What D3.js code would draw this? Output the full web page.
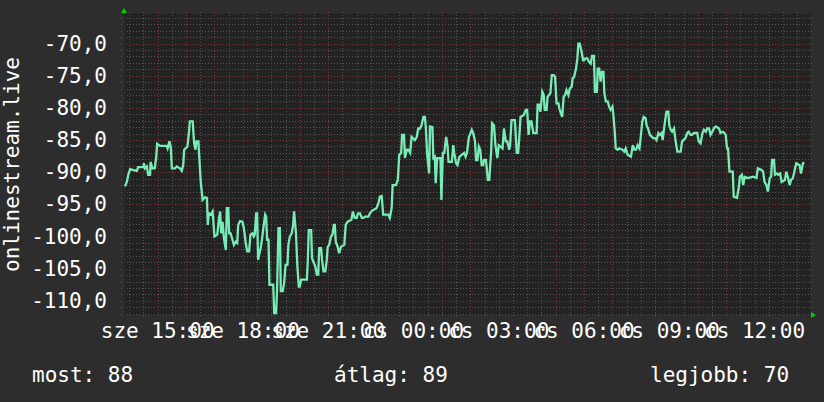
<!DOCTYPE html>
<html>
<head>
<meta charset="utf-8">
<script src="https://cdn.jsdelivr.net/npm/d3@7"></script>
<style>
  html, body { margin: 0; background: #2d2d2d; }
  svg { display: block; }
  text { font-family: "DejaVu Sans Mono", monospace; fill: #ffffff; }
</style>
</head>
<body>
<svg id="chart" width="824" height="402"></svg>
<script>
// --- data ---
const yTitle = "onlinestream.live";
const legendLabels = ["most", "átlag", "legjobb"];
const legendValues = [88, 89, 70];
const dayNames = ["v", "h", "k", "sze", "cs", "p", "szo"];
const startTime = new Date(2024, 0, 3, 13, 49); // szerda 13:49
const spanMinutes = 1448;
const yTicks = [-70, -75, -80, -85, -90, -95, -100, -105, -110];

// minutes after startTime
const minutes = [
  2,6,9,13,16,27,30,41,42,44,48,51,55,56,60,65,68,70,76,90,92,96,99,101,108,111,118,122,125,127,134,137,139,145,148,151,153,157,159,162,166,171,175,177,179,183,187,191,197,200,203,205,208,211,215,217,220,222,225,229,232,236,239,241,
  245,250,253,257,260,264,267,271,274,276,279,281,283,286,289,292,295,298,300,302,305,307,315,317,321,323,326,329,331,335,338,341,345,347,350,354,357,359,363,366,369,371,374,386,388,390,395,397,404,407,410,412,416,418,421,425,428,430,433,437,440,443,445,447,451,454,458,465,468,472,480,483,
  487,491,494,498,502,505,509,516,519,523,533,537,540,544,547,558,561,565,567,574,578,581,585,587,591,593,597,600,604,607,614,618,621,625,628,632,635,637,640,644,646,651,653,656,658,661,668,670,673,676,680,683,685,692,695,697,701,704,708,718,721,724,728,
  730,734,737,741,743,746,749,752,755,758,760,764,768,771,775,777,781,784,788,791,799,802,806,809,813,815,818,825,829,832,834,837,844,848,851,854,857,860,864,871,873,876,879,883,886,888,892,894,900,903,907,910,913,917,919,922,925,928,931,934,938,941,945,947,950,954,957,959,962,966,969,
  971,974,978,981,985,988,992,994,998,1000,1003,1006,1009,1012,1014,1017,1021,1024,1027,1031,1033,1036,1038,1042,1045,1052,1056,1059,1063,1070,1074,1077,1081,1084,1088,1090,1094,1097,1101,1103,1106,1110,1117,1121,1124,1128,1131,1135,1137,1140,1142,1145,1149,1151,1154,1157,1161,1164,1168,1175,1178,1185,1189,1192,1196,1199,1203,1210,1213,
  1217,1221,1224,1228,1231,1235,1238,1242,1245,1249,1256,1259,1263,1266,1270,1273,1275,1278,1285,1287,1294,1298,1300,1304,1307,1310,1317,1328,1335,1338,1345,1349,1352,1356,1359,1363,1366,1368,1372,1374,1378,1381,1385,1388,1395,1398,1401,1405,1408,1412,1415,1419,1426,1429,1433,1436
];
const values = [
  -92.2,-91.5,-90.4,-89.5,-89.6,-89.8,-89.2,-89.2,-88.6,-89.4,-89.1,-90.4,-90.4,-88.4,-89.4,-89.4,-87.6,-85.6,-85.9,-85.9,-86.3,-85.2,-86.3,-89.4,-89.4,-89.1,-89.4,-89.8,-88.9,-86.5,-86.0,-83.9,-82.1,-82.1,-85.5,-86.5,-85.2,-85.2,-87.8,-91.5,-94.3,-93.9,-94.0,-98.2,-96.4,-96.6,-96.1,-100.0,-99.7,-97.4,-96.1,-99.5,-97.7,-100.3,-102.1,-95.6,-95.6,-99.5,-99.5,-100.5,-101.3,-100.8,-101.0,-98.2,
  -97.6,-97.7,-98.7,-101.0,-102.3,-102.3,-99.7,-99.5,-100.0,-99.7,-96.4,-96.4,-103.6,-102.6,-101.6,-100.0,-98.2,-96.6,-96.9,-100.5,-100.5,-107.5,-107.5,-111.9,-111.9,-108.5,-98.7,-98.7,-108.5,-108.5,-107.2,-104.4,-104.4,-101.3,-100.0,-99.5,-98.2,-96.1,-99.5,-104.7,-107.8,-107.8,-106.7,-106.7,-103.6,-99.0,-99.0,-103.4,-104.7,-105.9,-105.9,-101.8,-101.8,-103.6,-105.4,-105.4,-103.6,-101.6,-101.3,-100.0,-99.7,-98.2,-98.2,-100.8,-101.6,-102.6,-101.6,-101.3,-98.2,-97.7,-97.4,-96.1,
  -97.1,-97.1,-96.4,-96.4,-97.1,-97.1,-96.9,-96.9,-96.4,-96.0,-95.6,-94.8,-93.8,-93.7,-96.6,-96.6,-97.1,-95.6,-92.0,-92.0,-91.2,-87.3,-87.0,-84.2,-84.2,-87.8,-86.5,-86.5,-87.0,-84.5,-85.0,-84.5,-83.2,-83.2,-82.7,-81.4,-81.4,-82.9,-87.3,-90.2,-82.9,-83.0,-87.8,-87.6,-91.7,-87.8,-87.8,-94.3,-87.0,-87.0,-84.5,-86.0,-88.4,-88.4,-85.8,-87.0,-88.6,-88.9,-87.6,-87.0,-87.6,-87.0,-84.5,
  -84.2,-83.4,-83.9,-85.2,-88.1,-88.1,-86.0,-86.5,-88.9,-88.9,-88.1,-88.1,-91.2,-91.2,-86.8,-82.4,-82.7,-85.8,-87.8,-85.8,-86.3,-83.2,-85.2,-85.2,-86.5,-85.8,-81.9,-81.9,-87.0,-87.0,-85.0,-81.4,-81.1,-80.3,-80.3,-84.2,-82.1,-82.1,-83.9,-83.9,-79.5,-79.5,-80.6,-77.5,-78.0,-80.3,-80.3,-78.3,-77.7,-74.9,-74.9,-75.2,-79.3,-79.3,-80.1,-80.8,-81.4,-78.3,-78.0,-77.2,-78.0,-77.0,-76.7,-75.4,-75.2,-73.9,-72.3,-70.0,-70.0,-71.3,-72.6,
  -72.6,-72.3,-72.3,-72.8,-73.1,-71.9,-71.9,-77.5,-77.5,-73.9,-73.9,-75.9,-74.4,-74.4,-77.7,-79.0,-79.0,-79.8,-80.3,-79.8,-81.1,-83.9,-86.3,-86.5,-86.3,-86.5,-86.8,-86.3,-87.3,-87.6,-85.8,-86.5,-86.5,-85.8,-86.3,-85.0,-82.1,-81.4,-81.6,-82.7,-83.2,-84.2,-84.7,-84.7,-85.0,-83.9,-84.2,-83.9,-85.0,-83.2,-82.1,-80.6,-80.6,-82.7,-83.4,-83.7,-83.2,-85.0,-86.8,-86.8,-85.2,-84.7,-83.9,-83.7,-84.2,-84.2,-83.9,-83.9,-85.2,
  -85.5,-83.9,-83.4,-83.7,-83.2,-83.2,-84.2,-83.7,-83.2,-82.9,-83.2,-83.9,-83.7,-83.8,-84.2,-86.3,-86.3,-89.9,-89.9,-93.8,-94.0,-92.2,-90.7,-90.4,-92.0,-90.7,-90.9,-90.7,-90.9,-89.4,-89.6,-89.9,-91.5,-92.0,-93.0,-90.9,-90.7,-88.1,-88.1,-90.4,-90.2,-90.4,-90.2,-91.5,-91.2,-89.9,-90.7,-92.0,-91.2,-90.9,-89.9,-88.6,-88.9,-90.2,-88.6,-88.5
];

// --- layout ---
const W = 824, H = 402;
const plot = { left: 124, right: 810, top: 14, bottom: 315 };
const FONT = "21px";
const COL = {
  canvas: "#2d2d2d", back: "#222222", minor: "#555555", major: "#803636",
  line: "#78ecb6", arrow: "#00cc00", axis: "#2a2a2a"
};

const svg = d3.select("#chart");
svg.append("rect").attr("width", W).attr("height", H).attr("fill", COL.canvas);

const endTime = d3.timeMinute.offset(startTime, spanMinutes);
const x = d3.scaleTime().domain([startTime, endTime]).range([plot.left, plot.right]);
const y = d3.scaleLinear().domain([-112.2, -65.4]).range([plot.bottom, plot.top]);

svg.append("rect")
  .attr("x", plot.left).attr("y", plot.top)
  .attr("width", plot.right - plot.left).attr("height", plot.bottom - plot.top)
  .attr("fill", COL.back);

const grid = svg.append("g").attr("shape-rendering", "crispEdges");
const yMinor = d3.range(-112, -65).filter(v => v % 5 !== 0);
const yMajor = d3.range(-110, -65, 5);
const xMinor = d3.timeMinute.every(30).range(startTime, endTime).filter(d => d.getMinutes() !== 0);
const xMajor = d3.timeHour.range(startTime, endTime);

function hLines(vals, color) {
  grid.selectAll(null).data(vals).enter().append("line")
    .attr("x1", plot.left - 3).attr("x2", plot.right + 2)
    .attr("y1", d => Math.round(y(d)) + 0.5).attr("y2", d => Math.round(y(d)) + 0.5)
    .attr("stroke", color).attr("stroke-dasharray", "1,2");
}
function vLines(vals, color) {
  grid.selectAll(null).data(vals).enter().append("line")
    .attr("y1", plot.top - 2).attr("y2", plot.bottom + 3)
    .attr("x1", d => Math.round(x(d)) + 0.5).attr("x2", d => Math.round(x(d)) + 0.5)
    .attr("stroke", color).attr("stroke-dasharray", "1,2");
}
hLines(yMinor, COL.minor);
vLines(xMinor, COL.minor);
hLines(yMajor, COL.major);
vLines(xMajor, COL.major);

// axis line
svg.append("line").attr("x1", plot.left + 0.5).attr("x2", plot.left + 0.5)
  .attr("y1", plot.top).attr("y2", plot.bottom).attr("stroke", COL.axis).attr("stroke-width", 2);

// data line
const pts = minutes.map((m, i) => ({ t: d3.timeMinute.offset(startTime, m), v: values[i] }));
svg.append("path").datum(pts)
  .attr("fill", "none").attr("stroke", COL.line).attr("stroke-width", 2.3)
  .attr("d", d3.line().x(d => x(d.t)).y(d => y(d.v)));

// arrows
svg.append("path").attr("fill", COL.arrow)
  .attr("d", `M${plot.left - 3},${plot.top - 1}L${plot.left + 3},${plot.top - 1}L${plot.left},${plot.top - 6}Z`);
svg.append("path").attr("fill", COL.arrow)
  .attr("d", `M${plot.right + 1},${plot.bottom - 3}L${plot.right + 1},${plot.bottom + 3}L${plot.right + 6},${plot.bottom}Z`);

// y tick labels
const huFmt = d3.formatLocale({ decimal: ",", thousands: " ", grouping: [3], currency: ["", " Ft"], minus: "-" }).format(".1f");
svg.append("g").selectAll("text").data(yTicks).enter().append("text")
  .attr("x", 107).attr("y", d => y(d) + 7)
  .attr("text-anchor", "end").style("font-size", FONT)
  .text(d => huFmt(d));

// x tick labels (they overlap in the original too)
const timeFmt = d3.timeFormat("%H:%M");
svg.append("g").selectAll("text").data(d3.timeHour.every(3).range(startTime, endTime)).enter().append("text")
  .attr("x", d => x(d)).attr("y", 338)
  .attr("text-anchor", "middle").style("font-size", FONT)
  .text(d => dayNames[d.getDay()] + " " + timeFmt(d));

// y title
svg.append("text")
  .attr("transform", `translate(19,${(plot.top + plot.bottom) / 2}) rotate(-90)`)
  .attr("text-anchor", "middle").style("font-size", FONT)
  .text(yTitle);

// legend
const legendX = [32, 334, 650];
svg.append("g").selectAll("text").data(legendLabels).enter().append("text")
  .attr("x", (d, i) => legendX[i]).attr("y", 382)
  .style("font-size", FONT)
  .text((d, i) => d + ": " + legendValues[i]);
</script>
</body>
</html>
